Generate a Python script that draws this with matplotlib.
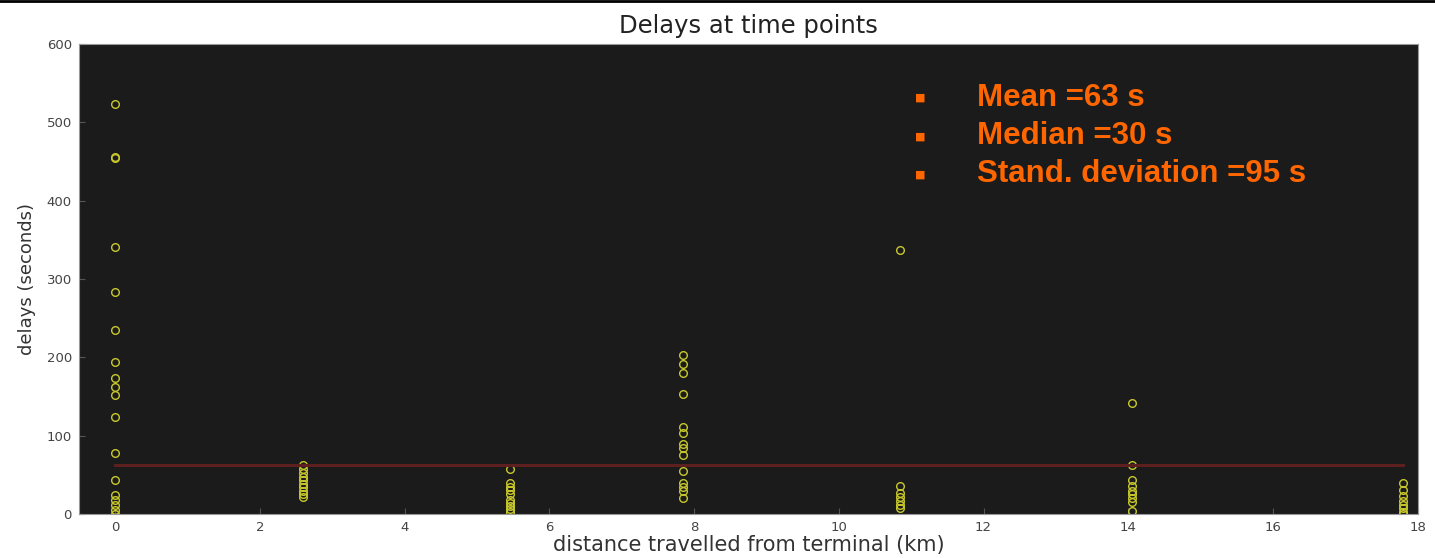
import numpy as np
import matplotlib.pyplot as plt
from matplotlib.lines import Line2D

plt.rcParams['font.family'] = ['DejaVu Sans']

# delay samples (s) grouped by stop position (km from terminal)
stop_km = [0.0, 2.6, 5.45, 7.85, 10.85, 14.05, 17.8]
delays_0 = [523, 456, 455, 341, 283, 235, 194, 174, 162, 152, 124, 78, 43, 24, 18, 11, 5, 0]
delays_1 = [62, 57, 52, 47, 43, 38, 34, 29, 25, 22]
delays_2 = [58, 40, 35, 30, 25, 18, 14, 10, 6, 3]
delays_3 = [203, 191, 180, 153, 111, 103, 89, 84, 75, 55, 40, 34, 29, 20]
delays_4 = [337, 36, 27, 22, 17, 11, 8]
delays_5 = [142, 63, 43, 36, 29, 25, 20, 15, 4]
delays_6 = [40, 31, 23, 17, 11, 8, 3, 0]
groups = [delays_0, delays_1, delays_2, delays_3, delays_4, delays_5, delays_6]

mean_delay = 63
median_delay = 30
std_delay = 95

fig = plt.figure(figsize=(14.35, 5.58), dpi=100)
ax = fig.add_axes([0.055, 0.079, 0.933, 0.842])
ax.set_facecolor('#1b1b1b')

for km, vals in zip(stop_km, groups):
    ax.plot([km] * len(vals), vals, 'o', mfc='none', mec='#c9c92c',
            mew=1.0, ms=5.5)

# mean delay across the route
ax.plot([stop_km[0], stop_km[-1]], [mean_delay, mean_delay],
        color='#5e1f1f', lw=2.2)

ax.set_xlim(-0.5, 18)
ax.set_ylim(0, 600)
ax.set_xticks(np.arange(0, 19, 2))
ax.set_yticks(np.arange(0, 601, 100))
ax.tick_params(direction='in', length=4, labelsize=9.5, colors='#555555',
               labelcolor='#444444', pad=5)
for s in ax.spines.values():
    s.set_color('#999999')

ax.set_title('Delays at time points', fontsize=17.5, color='#222222', pad=8)
ax.set_xlabel('distance travelled from terminal (km)', fontsize=15,
              color='#333333', labelpad=1)
ax.set_ylabel('delays (seconds)', fontsize=13, color='#333333', labelpad=8)

stats = [f'Mean ={mean_delay} s', f'Median ={median_delay} s',
         f'Stand. deviation ={std_delay} s']
for i, line in enumerate(stats):
    y = 0.885 - i * 0.081
    ax.text(0.6285, y, '\u25a0', transform=ax.transAxes, color='#ff6600',
            fontsize=8, va='center', ha='center')
    ax.text(0.671, y, line, transform=ax.transAxes, color='#ff6600',
            fontsize=22.5, fontweight='bold', fontstretch='normal',
            va='center', ha='left', family=['Liberation Sans', 'DejaVu Sans'])

# thin rule along the top edge
fig.add_artist(Line2D([0, 1], [0.998, 0.998], transform=fig.transFigure,
                      color='black', lw=2))

fig.savefig('out.png', dpi=100)
